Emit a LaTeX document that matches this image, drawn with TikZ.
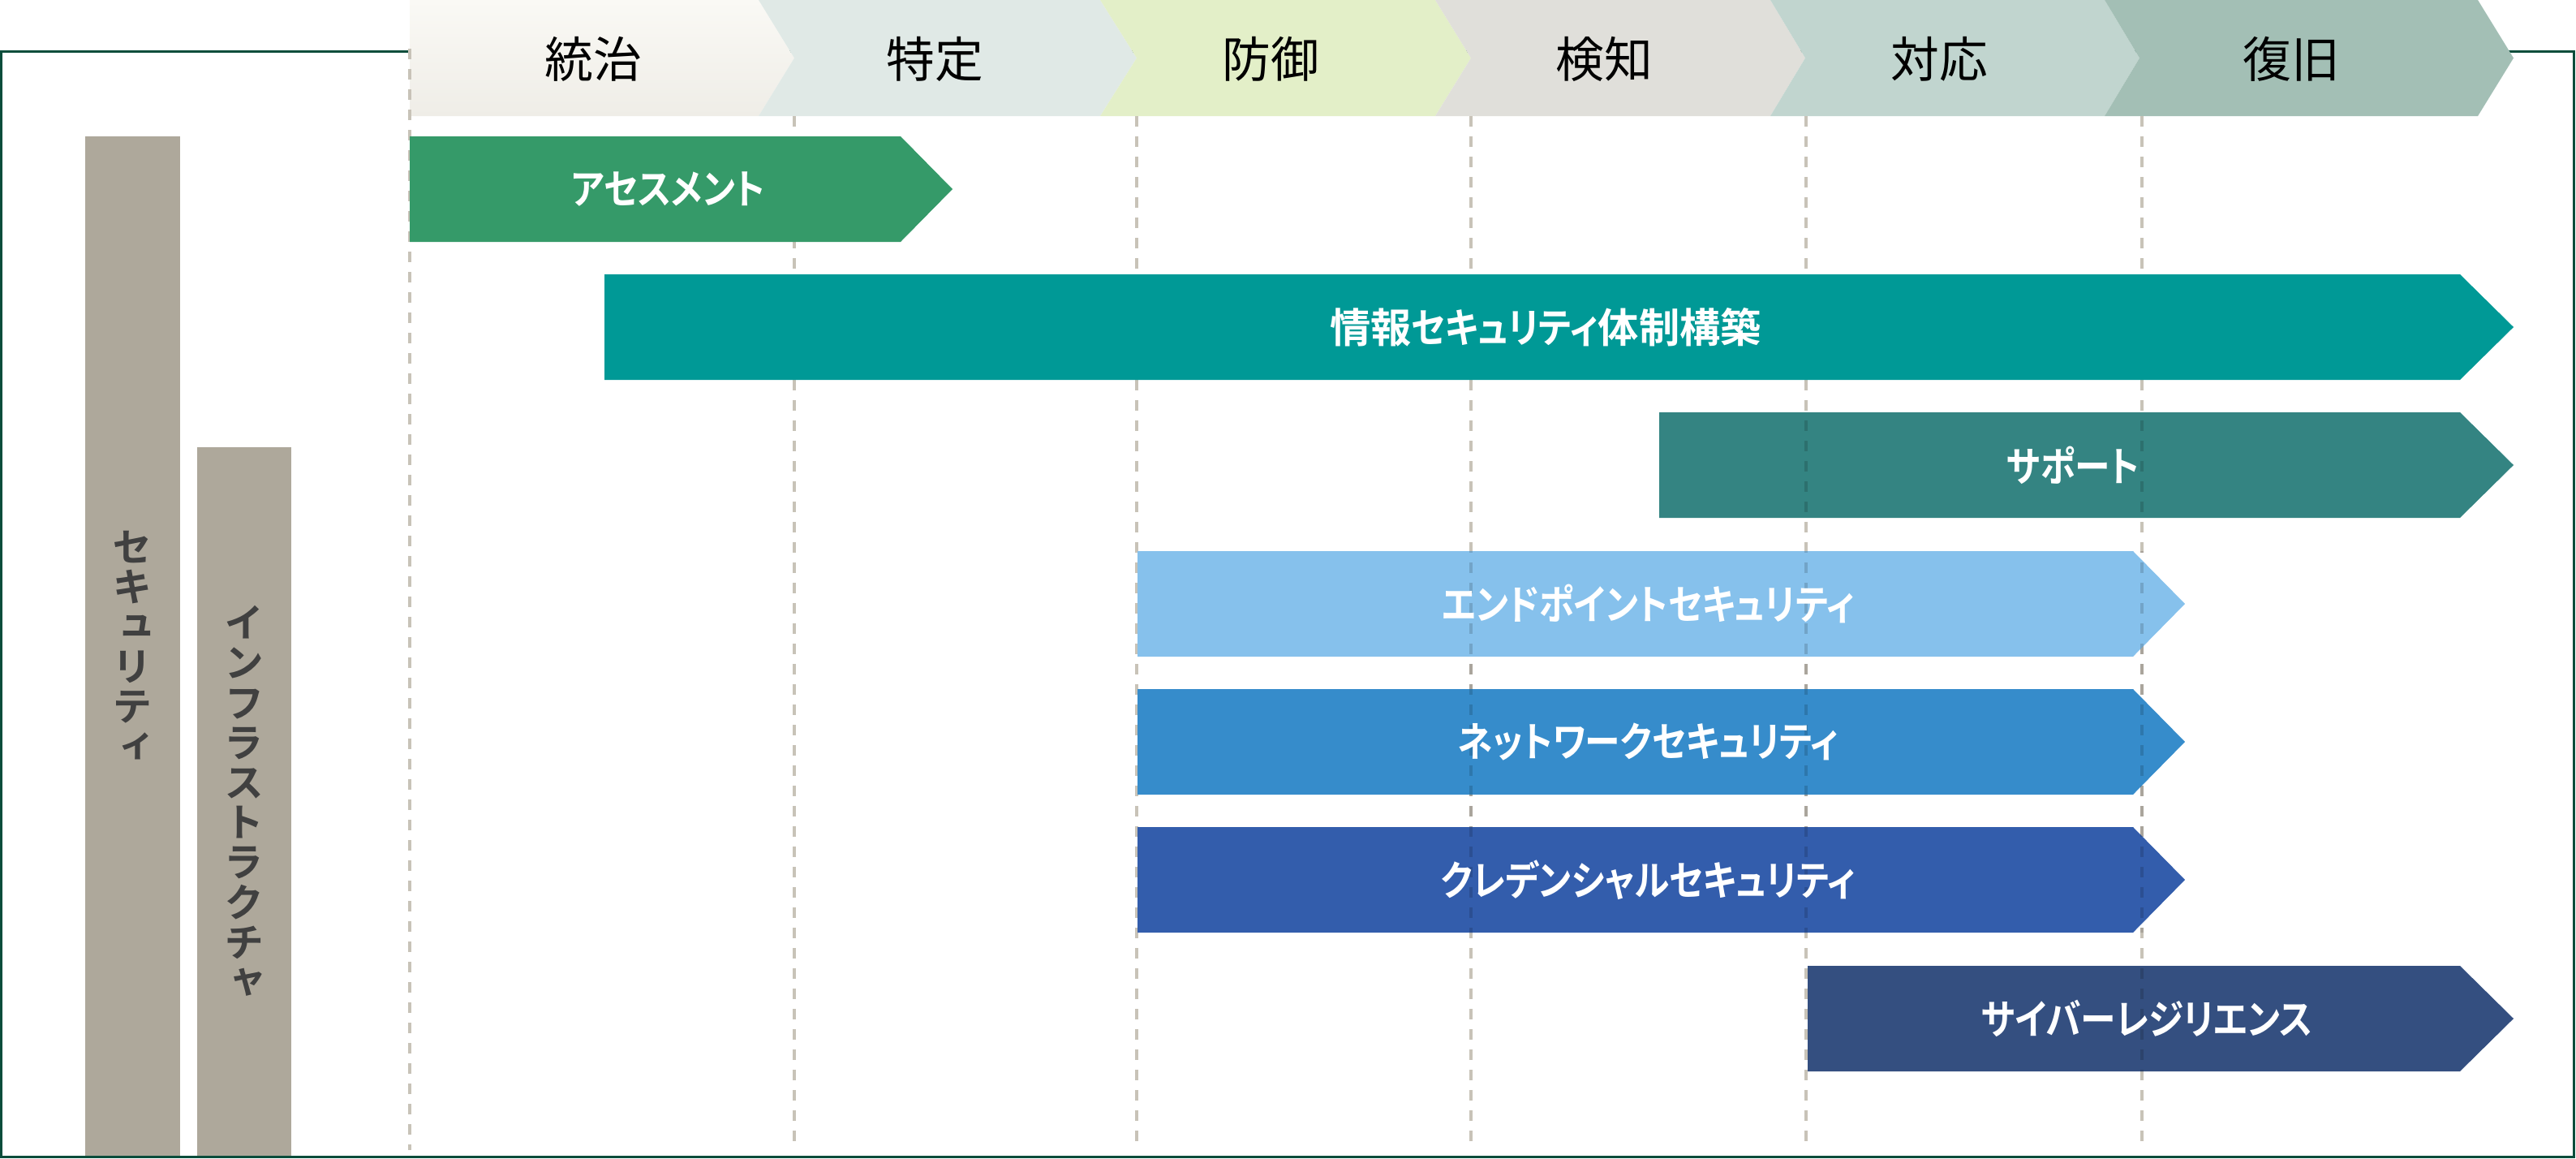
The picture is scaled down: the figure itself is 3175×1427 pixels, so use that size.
\documentclass[tikz,border=0pt]{standalone}
\usepackage{fontspec}
\setmainfont{Noto Sans CJK JP}
\newfontfamily\jpr{Noto Sans CJK JP}
\newfontfamily\jpb{Noto Sans CJK JP Bold}[RawFeature=+palt,FakeStretch=0.87]
\newfontfamily\jpk{Noto Sans CJK JP Bold}[RawFeature=+palt]
\newfontfamily\jpv{Noto Sans CJK JP Bold}[RawFeature=+vert]
\definecolor{framec}{HTML}{0B4D3B}
\definecolor{hdAt}{HTML}{FAF9F5}
\definecolor{hdAb}{HTML}{EFEDE7}
\definecolor{hdB}{HTML}{E0E9E6}
\definecolor{hdC}{HTML}{E3EFC8}
\definecolor{hdD}{HTML}{E0DFDA}
\definecolor{hdE}{HTML}{C1D5CF}
\definecolor{hdF}{HTML}{A3BFB5}
\definecolor{gridc}{HTML}{C8C3B8}
\definecolor{grayb}{HTML}{AEA89B}
\definecolor{grayt}{HTML}{404040}
\definecolor{barA}{HTML}{359A69}
\definecolor{barB}{HTML}{009996}
\definecolor{barC}{HTML}{348482}
\definecolor{barD}{HTML}{86C1EC}
\definecolor{barE}{HTML}{368CCB}
\definecolor{barF}{HTML}{335DAC}
\definecolor{barG}{HTML}{344F80}
\begin{document}
\begin{tikzpicture}[x=0.1mm,y=-0.1mm,
  framestyle/.style={draw=framec,line width=0.3mm},
  hdtext/.style={text=black,font={\jpr\fontsize{17pt}{20pt}\selectfont},inner sep=0pt},
  bartext/.style={text=white,font={\jpb\fontsize{14.3pt}{17pt}\selectfont},inner sep=0pt},
  vtext/.style={text=grayt,align=center,font={\jpv\fontsize{14pt}{14pt}\selectfont},inner sep=0pt},
  gridline/.style={draw=gridc,line width=0.35mm,dash pattern=on 1.3mm off 1.2mm},
  gridover/.style={draw=black,draw opacity=0.15,line width=0.35mm,dash pattern=on 1.3mm off 1.2mm}]
\useasboundingbox (0,0) rectangle (3175,1427);
% frame
\draw[framestyle] (1.5,63) rectangle (3172.5,1425);
% side bars
\fill[grayb] (105,168) rectangle (222,1424);
\fill[grayb] (243,551) rectangle (359,1424);
\node[vtext] (sec) at (163.5,796) {セ\\キ\\ュ\\リ\\テ\\ィ};
\node[vtext] (inf) at (301,987.5) {イ\\ン\\フ\\ラ\\ス\\ト\\ラ\\ク\\チ\\ャ};
% header chevrons
\shade[top color=hdAt,bottom color=hdAb] (505,0) -- (935,0) -- (979,71.5) -- (935,143) -- (505,143) -- cycle;
\fill[hdB] (935,0) -- (1356,0) -- (1401,71.5) -- (1356,143) -- (935,143) -- (979,71.5) -- cycle;
\fill[hdC] (1356,0) -- (1769,0) -- (1813,71.5) -- (1769,143) -- (1356,143) -- (1401,71.5) -- cycle;
\fill[hdD] (1769,0) -- (2182,0) -- (2225,71.5) -- (2182,143) -- (1769,143) -- (1813,71.5) -- cycle;
\fill[hdE] (2182,0) -- (2594,0) -- (2637,71.5) -- (2594,143) -- (2182,143) -- (2225,71.5) -- cycle;
\fill[hdF] (2594,0) -- (3054,0) -- (3098,71.5) -- (3054,143) -- (2594,143) -- (2637,71.5) -- cycle;
\node[hdtext] (p1) at (731,73) {統治};
\node[hdtext] (p2) at (1152,73) {特定};
\node[hdtext] (p3) at (1566,73) {防御};
\node[hdtext] (p4) at (1977,73) {検知};
\node[hdtext] (p5) at (2390,73) {対応};
\node[hdtext] (p6) at (2824,73) {復旧};
% grid lines
\draw[gridline] (505,60) -- (505,1417);
\foreach \gx in {979,1401,1813,2226,2640} \draw[gridline] (\gx,143) -- (\gx,1417);
% bars
\fill[barA] (505,168) -- (1110,168) -- (1174,233) -- (1110,298) -- (505,298) -- cycle;
\fill[barB] (745,338) -- (3032,338) -- (3098,403) -- (3032,468) -- (745,468) -- cycle;
\fill[barC] (2045,508) -- (3032,508) -- (3098,573) -- (3032,638) -- (2045,638) -- cycle;
\fill[barD] (1402,679) -- (2629,679) -- (2693,744) -- (2629,809) -- (1402,809) -- cycle;
\fill[barE] (1402,849) -- (2629,849) -- (2693,914) -- (2629,979) -- (1402,979) -- cycle;
\fill[barF] (1402,1019) -- (2629,1019) -- (2693,1084) -- (2629,1149) -- (1402,1149) -- cycle;
\fill[barG] (2228,1190) -- (3032,1190) -- (3098,1255) -- (3032,1320) -- (2228,1320) -- cycle;
% grid lines seen through lower bars
\begin{scope}
\clip (2045,508) -- (3032,508) -- (3098,573) -- (3032,638) -- (2045,638) -- cycle
      (1402,679) rectangle (2693,1149)
      (2228,1190) -- (3032,1190) -- (3098,1255) -- (3032,1320) -- (2228,1320) -- cycle;
\foreach \gx in {1813,2226,2640} \draw[gridover] (\gx,143) -- (\gx,1417);
\end{scope}
% bar labels
\node[bartext] (b1) at (823.5,233) {アセスメント};
\node[bartext] (b2) at (1905,403) {{\jpk 情報}セキュリティ{\jpk 体制構築}};
\node[bartext] (b3) at (2555,573) {サポート};
\node[bartext] (b4) at (2031.5,744) {エンドポイントセキュリティ};
\node[bartext] (b5) at (2031.5,914) {ネットワークセキュリティ};
\node[bartext] (b6) at (2031.5,1084) {クレデンシャルセキュリティ};
\node[bartext] (b7) at (2646.5,1255) {サイバーレジリエンス};
\end{tikzpicture}
\end{document}
